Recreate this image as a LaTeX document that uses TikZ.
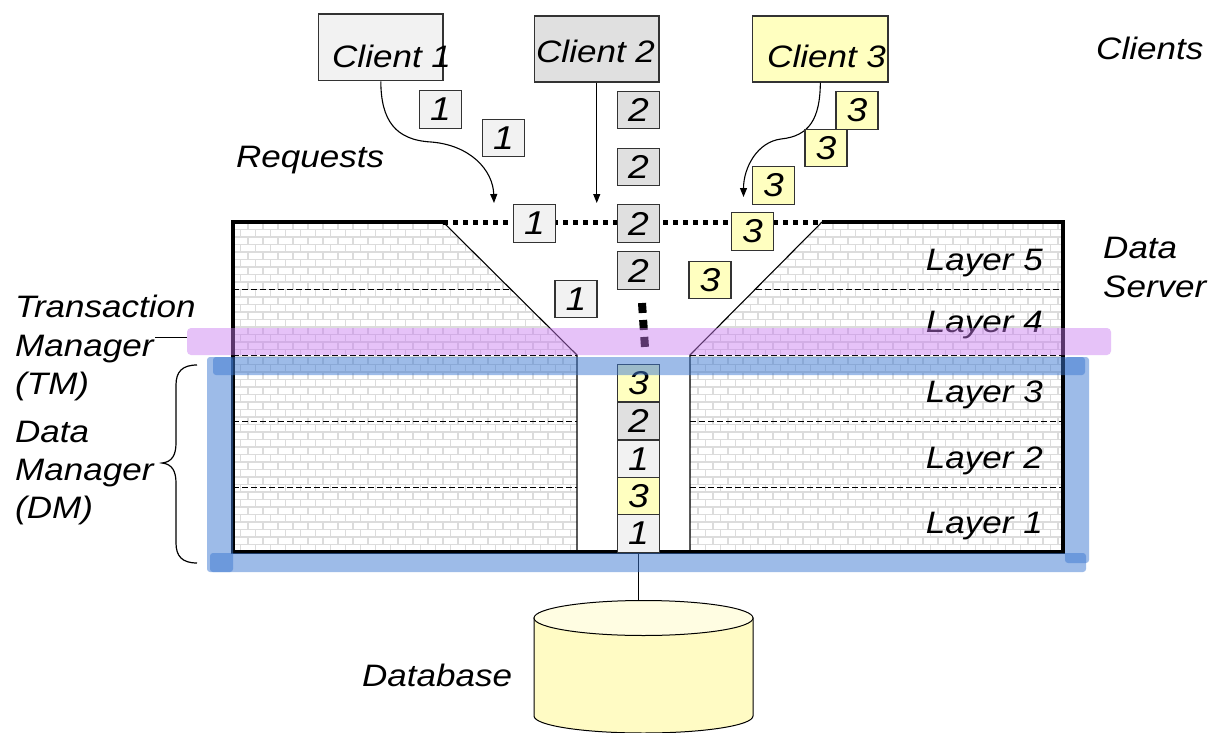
\documentclass[tikz,border=0pt]{standalone}
\usepackage{fontspec}
\setmainfont{Liberation Sans}[FakeStretch=1.13]
\usetikzlibrary{arrows.meta}
\definecolor{dotfill}{HTML}{F2F2F2}
\definecolor{grayfill}{HTML}{E0E0E0}
\definecolor{yellowfill}{HTML}{FFFFC0}
\definecolor{boxline}{HTML}{333333}
\definecolor{mortar}{HTML}{DCDCDC}
\definecolor{pinkbar}{RGB}{200,120,240}
\definecolor{bluebar}{RGB}{60,120,210}
\definecolor{dbbody}{HTML}{FFFBC4}
\definecolor{dbtopc}{HTML}{FFFDE2}
\tikzset{
  lbl/.style={font=\fontsize{31}{37}\selectfont\itshape, inner sep=0pt},
  req/.style={draw=boxline, line width=1.3pt, minimum width=42pt, minimum height=37.5pt, inner sep=0pt, font=\fontsize{33}{33}\selectfont\itshape},
  rone/.style={req, fill=dotfill},
  rtwo/.style={req, fill=grayfill},
  rthree/.style={req, fill=yellowfill},
  clientbox/.style={draw=boxline, line width=1.3pt, inner sep=0pt},
  mortarline/.style={draw=mortar, line width=1.3pt},
  layerline/.style={draw=black, line width=0.9pt, dash pattern=on 6pt off 3pt},
  arr/.style={draw=black, line width=1.1pt, -{Triangle[length=9pt,width=7pt]}},
  bluebox/.style={fill=bluebar, fill opacity=0.5, rounded corners=3pt},
  tmbar/.style={fill=pinkbar, fill opacity=0.45, rounded corners=4pt, minimum width=924pt, minimum height=27pt, inner sep=0pt}
}
\begin{document}
\begin{tikzpicture}[x=1pt,y=-1pt]
\useasboundingbox[fill=white] (0,0) rectangle (1220,733);

% brick texture
\begin{scope}
\clip (233,222) -- (443,222) -- (577,355) -- (577,552) -- (233,552) -- cycle
      (822,222) -- (1063,222) -- (1063,552) -- (690,552) -- (690,355) -- cycle;
\draw[mortarline] \foreach \k in {0,...,44} { (233,{222+\k*7.5}) -- (1063,{222+\k*7.5}) };
\draw[mortarline] \foreach \k in {0,...,43} { \foreach \j in {0,...,56} { ({233+\j*15+mod(\k,2)*7.5},{222+\k*7.5}) -- ++(0,7.5) } };
\end{scope}

% layer separators
\draw[layerline] (233,289) -- (510,289) (755.5,289) -- (1063,289);
\draw[layerline] (233,355) -- (577,355) (690,355) -- (1063,355);
\draw[layerline] (233,421) -- (577,421) (690,421) -- (1063,421);
\draw[layerline] (233,487) -- (577,487) (690,487) -- (1063,487);

% funnel
\draw[line width=1.1pt] (443,222) -- (577,355) -- (577,552);
\draw[line width=1.1pt] (822,222) -- (690,355) -- (690,552);

% server outline
\draw[line width=4pt, line join=miter] (443,222) -- (233,222) -- (233,552) -- (1063,552) -- (1063,222) -- (822,222);
\draw[line width=5pt, dash pattern=on 5pt off 5pt] (443,222) -- (822,222);
\draw[line width=8pt, dash pattern=on 10pt off 7pt] (642,303) -- (645,348);

% clients
\node[clientbox, fill=dotfill, minimum width=124.4pt, minimum height=66.7pt] (c1) at (380.8,47.35) {};
\node[clientbox, fill=grayfill, minimum width=124.5pt, minimum height=66pt] (c2) at (596.75,49) {};
\node[clientbox, fill=yellowfill, minimum width=135.3pt, minimum height=66pt] (c3) at (820.35,49) {};
\node[lbl, anchor=base west] (c1t) at (332,68) {Client 1};
\node[lbl, anchor=base west] (c2t) at (536,63) {Client 2};
\node[lbl, anchor=base west] (c3t) at (767,68) {Client 3};

% arrow ends
\coordinate (e1) at (494,203);
\coordinate (e2) at (596.75,203);
\coordinate (e3) at (743.5,197);
\draw[arr] (c1.south) .. controls (381,120) and (395,140) .. (431,142) .. controls (470,145) and (493,170) .. (e1);
\draw[arr] (c2.south) -- (e2);
\draw[arr] (c3.south) .. controls (820,118) and (810,136) .. (781,139) .. controls (757,142) and (743.5,168) .. (e3);

% requests of client 1
\node[rone] (a1) at (440.5,109.5) {1};
\node[rone] (a2) at (503.6,138) {1};
\node[rone] (a3) at (534.5,223.5) {1};
\node[rone] (a4) at (576,299) {1};
% requests of client 2
\node[rtwo] (b1) at (638.5,110) {2};
\node[rtwo] (b2) at (638.5,167) {2};
\node[rtwo] (b3) at (638.5,223.5) {2};
\node[rtwo] (b4) at (638.5,270.5) {2};
% requests of client 3
\node[rthree] (d1) at (857,110.5) {3};
\node[rthree] (d2) at (826,148) {3};
\node[rthree] (d3) at (773.4,185.5) {3};
\node[rthree] (d4) at (752.4,231.5) {3};
\node[rthree] (d5) at (710,280) {3};

% queue in the data manager
\node[rthree] (k1) at (638.5,383) {3};
\node[rtwo]   (k2) at (638.5,421) {2};
\node[rone]   (k3) at (638.5,459) {1};
\node[rthree] (k4) at (638.5,496.5) {3};
\node[rone]   (k5) at (638.5,533.5) {1};

% database
\filldraw[fill=dbbody, draw=black, line width=1pt] (534,618) -- (534,716) arc[start angle=180, end angle=360, x radius=109.5pt, y radius=17pt] -- (753,618) -- cycle;
\filldraw[fill=dbtopc, draw=black, line width=1pt] (643.5,618) ellipse[x radius=109.5pt, y radius=17.5pt];
\coordinate (dbtop) at (638.5,600.6);
\draw[line width=1pt] (k5.south) -- (dbtop);

% labels
\node[lbl, anchor=base west] (clients) at (1096,60) {Clients};
\node[lbl, anchor=base west] (requests) at (236,167) {Requests};
\node[lbl, anchor=base west] (ds1) at (1103,258) {Data};
\node[lbl, anchor=base west] (ds2) at (1103,297) {Server};
\node[lbl, anchor=base west] (database) at (362,686) {Database};
\node[lbl, anchor=base east] (l5) at (1043,270) {Layer 5};
\node[lbl, anchor=base east] (l4) at (1043,332) {Layer 4};
\node[lbl, anchor=base east] (l3) at (1043,402) {Layer 3};
\node[lbl, anchor=base east] (l2) at (1043,468) {Layer 2};
\node[lbl, anchor=base east] (l1) at (1043,533) {Layer 1};
\node[lbl, anchor=base west] (tm1) at (15,317) {Transaction};
\node[lbl, anchor=base west] (tm2) at (15,356) {Manager};
\node[lbl, anchor=base west] (tm3) at (15,394) {(TM)};
\node[lbl, anchor=base west] (dm1) at (15,442) {Data};
\node[lbl, anchor=base west] (dm2) at (15,480) {Manager};
\node[lbl, anchor=base west] (dm3) at (15,518) {(DM)};

% brace for DM
\draw[line width=1.2pt] (197,365) .. controls (182,365) and (176,372) .. (176,385) -- (176,443) .. controls (176,455) and (172,462) .. (162,463) .. controls (172,464) and (176,471) .. (176,483) -- (176,543) .. controls (176,556) and (182,563) .. (197,563);

% transaction manager band
\node[tmbar] (tm) at (649,341.5) {};
\coordinate (tmend) at (155,337);
\draw[line width=1pt] (tmend) -- (tmend -| tm.west);

% data manager frame
\fill[bluebox] (213,357) rectangle (1085,375);
\fill[bluebox] (210,553) rectangle (1086,572);
\fill[bluebox] (207,357) rectangle (233,572);
\fill[bluebox] (1065,357) rectangle (1089,563);
\end{tikzpicture}
\end{document}
